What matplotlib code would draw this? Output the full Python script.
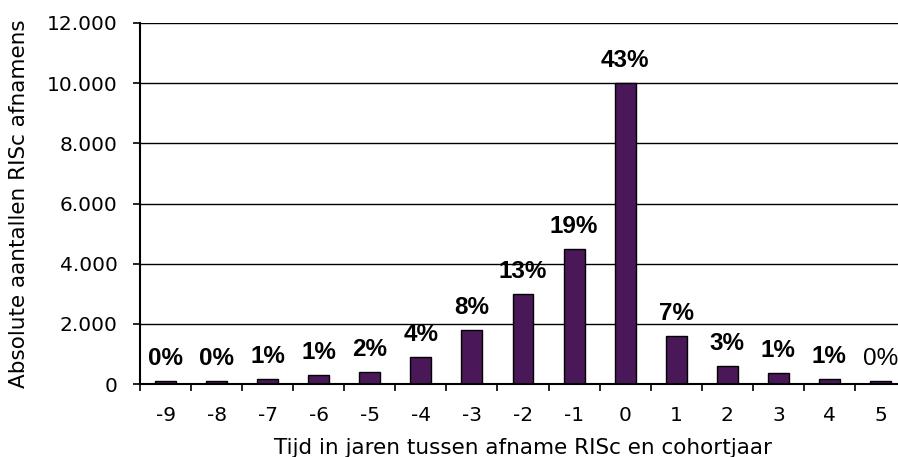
import numpy as np
from matplotlib import pyplot as plt
from matplotlib.ticker import FuncFormatter

# years between RISc assessment and cohort year
YEARS = [-9, -8, -7, -6, -5, -4, -3, -2, -1, 0, 1, 2, 3, 4, 5]
COUNTS = [100, 100, 150, 300, 400, 900, 1800, 3000, 4500, 10000, 1600, 600, 350, 150, 100]
PCT = ['0%', '0%', '1%', '1%', '2%', '4%', '8%', '13%', '19%', '43%', '7%', '3%', '1%', '1%', '0%']
PCT_BOLD = [True]*14 + [False]

BAR_COLOR = '#4a1758'

fig = plt.figure(figsize=(8.98, 4.57), dpi=100)
ax = fig.add_axes([140/898, 1 - 384/457, 766/898, (384 - 23)/457])

x = np.arange(len(YEARS))
ax.bar(x, COUNTS, width=0.41, color=BAR_COLOR, edgecolor='black', linewidth=1.0, zorder=3)

for xi, c, p, b in zip(x, COUNTS, PCT, PCT_BOLD):
    ax.annotate(p, (xi, c), xytext=(0, 8), textcoords='offset points',
                ha='center', va='bottom', fontsize=17.5,
                family='Liberation Sans', fontweight='bold' if b else 'normal',
                zorder=4)

ax.set_xlim(-0.5, len(YEARS) - 0.5)
ax.set_ylim(0, 12000)
ax.set_yticks(np.arange(0, 12001, 2000))
ax.yaxis.set_major_formatter(FuncFormatter(lambda v, pos: f'{int(v):,}'.replace(',', '.')))
ax.yaxis.grid(True, color='black', linewidth=1.0, zorder=0)

ax.set_xticks(x)
ax.set_xticklabels([str(y) for y in YEARS])
ax.set_xticks(np.arange(-0.5, len(YEARS), 1.0), minor=True)
ax.tick_params(axis='x', which='major', length=0, pad=16, labelsize=14.5)
ax.tick_params(axis='x', which='minor', length=5, width=1.2, direction='out')
ax.tick_params(axis='y', which='major', length=5, width=1.2, pad=11, labelsize=14.5)

for s in ['top', 'right']:
    ax.spines[s].set_visible(False)
ax.spines['left'].set_linewidth(1.5)
ax.spines['bottom'].set_linewidth(1.5)
ax.spines['left'].set_zorder(5)
ax.spines['bottom'].set_zorder(5)

ax.set_xlabel('Tijd in jaren tussen afname RISc en cohortjaar', fontsize=15.5, labelpad=9)
ax.set_ylabel('Absolute aantallen RISc afnamens', fontsize=15.5, labelpad=13)

fig.savefig('out.png', dpi=100)
